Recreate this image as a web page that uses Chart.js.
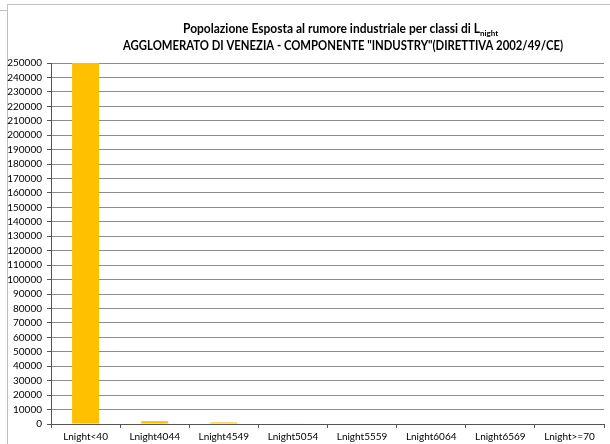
<!DOCTYPE html>
<html>
<head>
<meta charset="utf-8">
<script src="https://cdn.jsdelivr.net/npm/chart.js@4.4.1/dist/chart.umd.min.js"></script>
<style>
  html, body { margin: 0; padding: 0; background: #fff; }
  #wrap { width: 610px; height: 444px; position: relative; }
</style>
</head>
<body>
<div id="wrap"><canvas id="chart"></canvas></div>
<script>
// classi di Lnight and exposed population
const classi = ['Lnight<40', 'Lnight4044', 'Lnight4549', 'Lnight5054', 'Lnight5559', 'Lnight6064', 'Lnight6569', 'Lnight>=70'];
const popolazione = [250000, 2000, 1100, 300, 0, 0, 0, 0];

const titolo1 = 'Popolazione Esposta al rumore industriale per classi di L';
const titolo1Pedice = 'night';
const titolo2 = 'AGGLOMERATO DI VENEZIA - COMPONENTE "INDUSTRY"(DIRETTIVA 2002/49/CE)';

const fontName = 'Lato, "Liberation Sans", Arial, sans-serif';

// draws a text squeezed horizontally to the given width
function testoStretto(ctx, testo, x, y, larghezza) {
    const w = ctx.measureText(testo).width;
    const k = Math.min(1, larghezza / w);
    ctx.save();
    ctx.translate(x, y);
    ctx.scale(k, 1);
    ctx.fillText(testo, 0, 0);
    ctx.restore();
    return w * k;
}

// white background + grey frame of the chart object, and the title
const frame = {
    id: 'frame',
    beforeDraw(chart) {
        const ctx = chart.ctx;
        ctx.save();
        ctx.fillStyle = '#fff';
        ctx.fillRect(0, 0, chart.width, chart.height);
        ctx.strokeStyle = '#c0c0c0';
        ctx.lineWidth = 1;
        ctx.strokeRect(7.5, 4.5, chart.width + 20, chart.height + 20);
        ctx.beginPath();
        ctx.moveTo(0, 10.5);
        ctx.lineTo(7, 10.5);
        ctx.stroke();
        ctx.restore();
    },
    afterDraw(chart) {
        const ctx = chart.ctx;
        ctx.save();
        ctx.fillStyle = '#000';
        ctx.textBaseline = 'alphabetic';
        ctx.textAlign = 'left';
        ctx.font = 'bold 13px ' + fontName;
        const w1 = testoStretto(ctx, titolo1, 183, 33, 297);
        ctx.font = 'bold 8px ' + fontName;
        testoStretto(ctx, titolo1Pedice, 183 + w1, 36, 19);
        ctx.font = 'bold 13px ' + fontName;
        testoStretto(ctx, titolo2, 123, 50, 440);
        ctx.restore();
    }
};

new Chart(document.getElementById('chart'), {
    type: 'bar',
    data: {
        labels: classi,
        datasets: [{
            label: 'Popolazione',
            data: popolazione,
            backgroundColor: '#FFC000',
            borderWidth: 0,
            barPercentage: 0.39,
            categoryPercentage: 1
        }]
    },
    options: {
        responsive: true,
        maintainAspectRatio: false,
        animation: false,
        layout: { padding: { left: 0, top: 63, right: 6, bottom: 0 } },
        plugins: {
            legend: { display: false },
            title: { display: false },
            tooltip: { enabled: false }
        },
        scales: {
            x: {
                offset: true,
                grid: {
                    offset: true,
                    color: ctx => ctx.index === classi.length ? '#8c8c8c' : 'rgba(0,0,0,0)',
                    tickColor: '#555',
                    tickLength: 4
                },
                border: { color: '#555' },
                ticks: {
                    color: '#000',
                    font: { family: fontName, size: 10 },
                    maxRotation: 0,
                    autoSkip: false,
                    padding: 3
                },
                afterFit(scale) { scale.height = 20; }
            },
            y: {
                min: 0,
                max: 250000,
                grid: {
                    color: '#8c8c8c',
                    tickColor: '#555',
                    tickLength: 4
                },
                border: { color: '#555' },
                ticks: {
                    stepSize: 10000,
                    autoSkip: false,
                    color: '#000',
                    font: { family: fontName, size: 10 },
                    padding: 5,
                    callback: v => String(v)
                },
                afterFit(scale) { scale.width = 51; }
            }
        }
    },
    plugins: [frame]
});
</script>
</body>
</html>
